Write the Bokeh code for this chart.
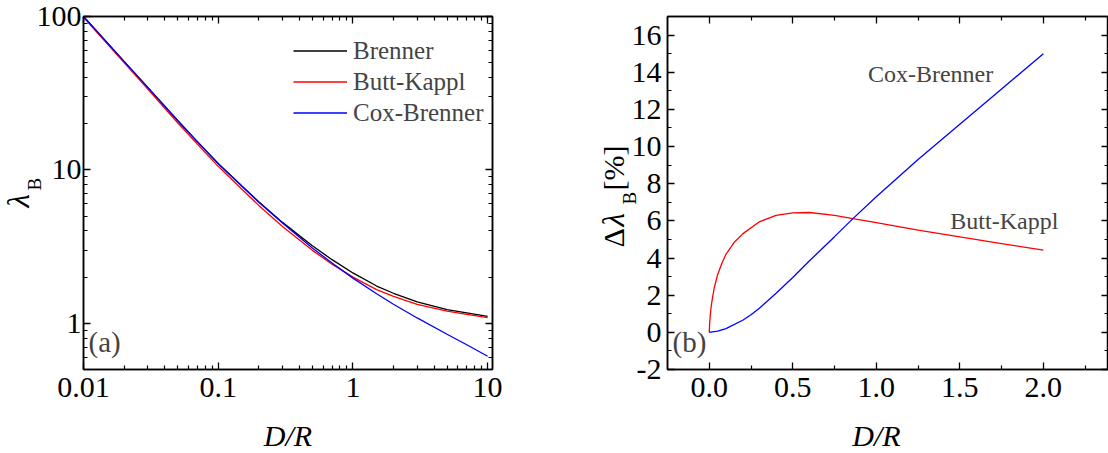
from math import pi

from bokeh.plotting import figure
from bokeh.layouts import row
from bokeh.models import (FixedTicker, LogAxis, LinearAxis, CustomJSTickFormatter,
                          Label, Legend, LegendItem, Range1d, GridBox)
from bokeh.embed import file_html
from bokeh.resources import INLINE

FONT = "Liberation Serif"

# ---- panel (a): slip length factor lambda_B against D/R (log-log) ----
dr_a = [0.01, 0.02, 0.03, 0.05, 0.07, 0.1, 0.15, 0.2, 0.3, 0.5, 0.7,
        1.0, 1.5, 2.0, 3.0, 5.0, 7.0, 10.0]
brenner = [100.0, 51.0, 34.5, 21.0, 15.3, 11.0, 7.85, 6.2, 4.55, 3.2, 2.6,
           2.13, 1.75, 1.57, 1.38, 1.23, 1.17, 1.11]
butt_kappl = [98.7, 50.0, 33.7, 20.3, 14.75, 10.55, 7.48, 5.87, 4.28, 2.99, 2.43,
              2.0, 1.66, 1.5, 1.33, 1.2, 1.145, 1.09]
cox_brenner = [100.0, 51.0, 34.5, 21.0, 15.3, 10.98, 7.82, 6.16, 4.5, 3.1, 2.47,
               1.97, 1.557, 1.332, 1.084, 0.849, 0.725, 0.61]

# ---- panel (b): relative deviation from Brenner, in percent ----
dr_bk = [0.0, 0.0025, 0.005, 0.0075, 0.01, 0.015, 0.02, 0.03, 0.05, 0.075, 0.1,
         0.15, 0.2, 0.3, 0.4, 0.5, 0.6, 0.75, 0.86, 1.0, 1.25, 1.5, 1.75, 2.0]
delta_bk = [0.0, 0.5, 0.8, 1.05, 1.3, 1.6, 1.9, 2.4, 3.1, 3.7, 4.2,
            4.85, 5.3, 5.95, 6.3, 6.43, 6.45, 6.3, 6.12, 5.9, 5.5, 5.14, 4.78, 4.42]
dr_cb = [0.0, 0.05, 0.1, 0.2, 0.25, 0.3, 0.4, 0.5, 0.6, 0.75, 0.86, 1.0,
         1.25, 1.5, 1.75, 2.0]
delta_cb = [0.0, 0.06, 0.2, 0.65, 0.95, 1.3, 2.1, 2.95, 3.85, 5.15, 6.12, 7.3,
            9.3, 11.2, 13.1, 15.0]

# tick positions
xa_major = [0.01, 0.1, 1, 10]
xa_minor = [m * d for d in (0.01, 0.1, 1) for m in range(2, 10)]
ya_major = [1, 10, 100]
ya_minor = [0.5, 0.6, 0.7, 0.8, 0.9] + [m * d for d in (1, 10) for m in range(2, 10)]
xb_major = [0.0, 0.5, 1.0, 1.5, 2.0]
xb_minor = [0.25, 0.75, 1.25, 1.75, 2.25]
yb_major = list(range(-2, 17, 2))
yb_minor = list(range(-1, 17, 2))

BLACK, RED, BLUE = "#000000", "#ff0000", "#0000ff"


def style_axis(ax, labels=True):
    ax.axis_line_color = "black"
    ax.axis_line_width = 1.5
    ax.major_tick_in = 7
    ax.major_tick_out = 0
    ax.minor_tick_in = 4
    ax.minor_tick_out = 0
    ax.major_tick_line_color = "black"
    ax.major_tick_line_width = 1.3
    ax.minor_tick_line_color = "black"
    ax.minor_tick_line_width = 1.2
    ax.major_label_text_font = FONT
    ax.major_label_text_font_size = "30px"
    ax.major_label_text_color = "black"
    if not labels:
        ax.formatter = CustomJSTickFormatter(code="return ''")
        ax.major_label_text_font_size = "0px"
        ax.major_label_standoff = 0


def base(p):
    p.outline_line_color = "black"
    p.outline_line_width = 1.5
    p.xgrid.visible = False
    p.ygrid.visible = False
    p.background_fill_color = "white"
    p.border_fill_color = "white"


# ---------------- panel (a) ----------------
p1 = figure(width=560, height=453, x_axis_type="log", y_axis_type="log",
            x_range=Range1d(0.01, 10.87), y_range=Range1d(0.5, 100),
            min_border_left=83, min_border_right=68, min_border_top=16,
            min_border_bottom=84, output_backend="svg", toolbar_location=None)
base(p1)

r_b = p1.line(dr_a, brenner, line_color=BLACK, line_width=1.3)
r_bk = p1.line(dr_a, butt_kappl, line_color=RED, line_width=1.3)
r_cb = p1.line(dr_a, cox_brenner, line_color=BLUE, line_width=1.3)

xa = p1.xaxis[0]
xa.ticker = FixedTicker(ticks=xa_major, minor_ticks=xa_minor)
style_axis(xa)
xa.formatter = CustomJSTickFormatter(code="return tick.toString()")
xa.major_label_standoff = 8

ya = p1.yaxis[0]
ya.ticker = FixedTicker(ticks=ya_major, minor_ticks=ya_minor)
style_axis(ya)
ya.formatter = CustomJSTickFormatter(code="return tick.toString()")
ya.major_label_standoff = 2

top_a = LogAxis(ticker=FixedTicker(ticks=xa_major, minor_ticks=xa_minor))
style_axis(top_a, labels=False)
p1.add_layout(top_a, "above")
right_a = LogAxis(ticker=FixedTicker(ticks=ya_major, minor_ticks=ya_minor))
style_axis(right_a, labels=False)
p1.add_layout(right_a, "right")

legend = Legend(items=[LegendItem(label="Brenner", renderers=[r_b]),
                       LegendItem(label="Butt-Kappl", renderers=[r_bk]),
                       LegendItem(label="Cox-Brenner", renderers=[r_cb])],
                location=(210, 241), glyph_width=54, glyph_height=31,
                label_height=31, label_standoff=6, spacing=0, padding=0, margin=0,
                border_line_color=None, background_fill_alpha=0,
                label_text_font=FONT, label_text_font_size="25px")
p1.add_layout(legend)

p1.add_layout(Label(x=5, y=12, x_units="screen", y_units="screen", text="(a)",
                    text_font=FONT, text_font_size="29px"))

# ---------------- panel (b) ----------------
p2 = figure(width=548, height=453, x_range=Range1d(-0.25, 2.39), y_range=Range1d(-2, 17.0),
            min_border_left=107, min_border_right=0, min_border_top=16,
            min_border_bottom=84, output_backend="svg", toolbar_location=None)
base(p2)

p2.line(dr_bk, delta_bk, line_color=RED, line_width=1.3)
p2.line(dr_cb, delta_cb, line_color=BLUE, line_width=1.3)

xb = p2.xaxis[0]
xb.ticker = FixedTicker(ticks=xb_major, minor_ticks=xb_minor)
style_axis(xb)
xb.formatter = CustomJSTickFormatter(code="return tick.toFixed(1)")
xb.major_label_standoff = 8

yb = p2.yaxis[0]
yb.ticker = FixedTicker(ticks=yb_major, minor_ticks=yb_minor)
style_axis(yb)
yb.formatter = CustomJSTickFormatter(code="return tick.toString()")
yb.major_label_standoff = 6

top_b = LinearAxis(ticker=FixedTicker(ticks=xb_major, minor_ticks=xb_minor))
style_axis(top_b, labels=False)
p2.add_layout(top_b, "above")
right_b = LinearAxis(ticker=FixedTicker(ticks=yb_major, minor_ticks=yb_minor))
style_axis(right_b, labels=False)
p2.add_layout(right_b, "right")

p2.add_layout(Label(x=0.95, y=13.2, text="Cox-Brenner", text_font=FONT,
                    text_font_size="24px"))
p2.add_layout(Label(x=1.443, y=5.3, text="Butt-Kappl", text_font=FONT,
                    text_font_size="24px"))
p2.add_layout(Label(x=5, y=12, x_units="screen", y_units="screen", text="(b)",
                    text_font=FONT, text_font_size="29px"))

# ------------- transparent layer for the axis titles -------------
# (the titles overlap the tick-label columns, so they live on a layer
#  covering the whole page, in page pixels measured from the top-left;
#  each anchor is the middle of the text line)
titles = figure(width=1108, height=453, x_range=Range1d(0, 1108), y_range=Range1d(453, 0),
                x_axis_location=None, y_axis_location=None, min_border=0,
                min_border_left=0, min_border_right=0, min_border_top=0,
                min_border_bottom=0, output_backend="svg", toolbar_location=None)
titles.outline_line_color = None
titles.background_fill_color = None
titles.border_fill_color = None
titles.grid.visible = False


def title_text(x, y, text, size, style="normal", angle=0.0, align="left"):
    titles.add_layout(Label(x=x, y=y, text=text, angle=angle, text_align=align,
                            text_baseline="middle", text_font=FONT,
                            text_font_style=style, text_font_size=size,
                            text_color="black"))


# x titles
title_text(287.5, 435, "D/R", "30px", style="italic", align="center")
title_text(876, 435, "D/R", "30px", style="italic", align="center")
# y title of (a): lambda_B
title_text(18, 207, "λ", "31px", style="italic", angle=pi / 2)
title_text(33.5, 190, "B", "19px", angle=pi / 2)
# y title of (b): Delta lambda_B [%]
title_text(613, 247, "Δ", "30px", angle=pi / 2)
title_text(613, 226, "λ", "31px", style="italic", angle=pi / 2)
title_text(628.5, 204, "B", "19px", angle=pi / 2)
title_text(613, 190, "[%]", "30px", angle=pi / 2)

panels = row(p1, p2)
page = GridBox(children=[(panels, 0, 0), (titles, 0, 0)])
open("out.html", "w").write(file_html(page, INLINE))
